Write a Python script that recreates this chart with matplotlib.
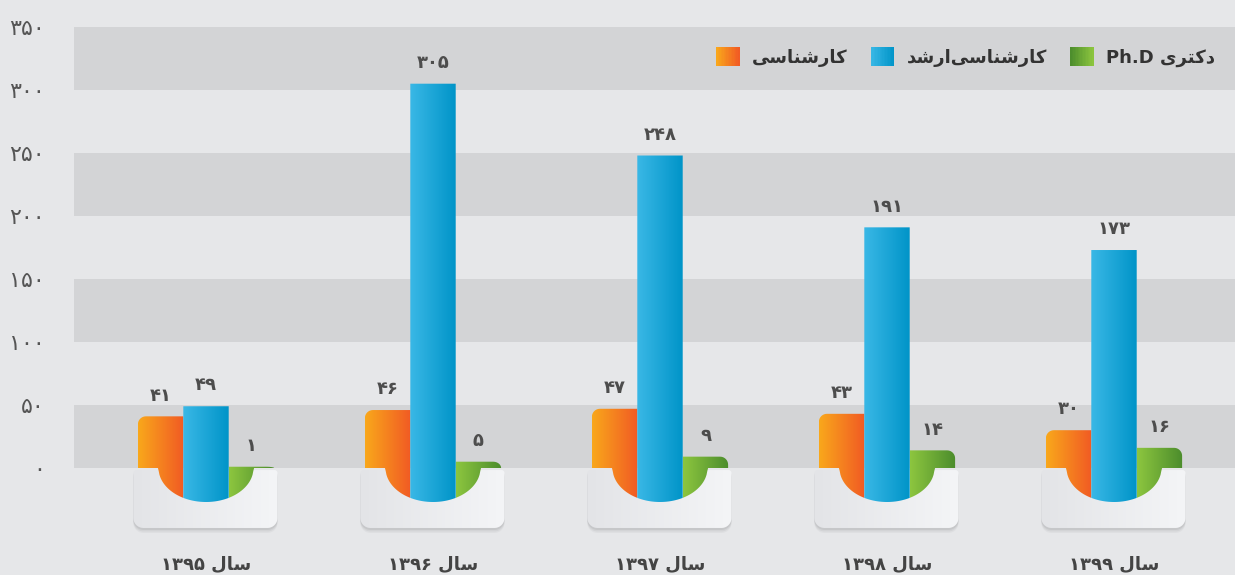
import numpy as np
import matplotlib
matplotlib.use('Agg')
import matplotlib.pyplot as plt
from matplotlib.colors import LinearSegmentedColormap
from matplotlib.patches import Polygon, Patch, Rectangle
from matplotlib.legend_handler import HandlerBase

# data
years = [1395, 1396, 1397, 1398, 1399]
bachelor = [41, 46, 47, 43, 30]
master = [49, 305, 248, 191, 173]
phd = [1, 5, 9, 14, 16]
yticks = [0, 50, 100, 150, 200, 250, 300, 350]

FA = str.maketrans('0123456789', '۰۱۲۳۴۵۶۷۸۹')
def fa(n):
    return str(n).translate(FA)

# persian words, already shaped (presentation forms, visual order)
sal = '\uFEDD\uFE8E\uFEB3'
karshenasi = '\uFBFD\uFEB3\uFE8E\uFEE8\uFEB7\uFEAD\uFE8E\uFB90'
arshad = '\uFEAA\uFEB7\uFEAD\uFE8D'
doktori = '\uFBFC\uFEAE\uFE98\uFB90\uFEA9'
names = [karshenasi, arshad + karshenasi, 'Ph.D ' + doktori]
xlabels = [fa(y) + ' ' + sal for y in years]

bg = '#e6e7e9'
band = '#d3d4d6'
grads = [('#f9a81b', '#f15a24'), ('#3ab8e6', '#0094c8'), ('#8dc63f', '#4b8c2c')]
leg_grads = [('#f9a81b', '#f15a24'), ('#3ab8e6', '#0094c8'), ('#4b8c2c', '#8dc63f')]

plt.rcParams['font.family'] = ['DejaVu Sans']

fig = plt.figure(figsize=(12.35, 5.75), dpi=100, facecolor=bg)
ax = fig.add_axes([74/1235, 35/575, 1161/1235, 540/575])
ax.set_facecolor(bg)

# px -> data
sx = 1/227.
sy = 50/63.
U_HALF = 47.5*sx
U_DEPTH = 34*sy

for lo in [0, 100, 200, 300]:
    ax.axhspan(lo, lo+50, color=band, zorder=0, lw=0)

x = np.arange(len(years))


def rounded(x0, x1, y0, y1, rb, rt, n=10):
    # rectangle with rounded corners, radii in px
    pts = []
    for cx, cy, r, a0 in [(x1, y0, rb, -90), (x1, y1, rt, 0), (x0, y1, rt, 90), (x0, y0, rb, 180)]:
        rx, ry = r*sx, r*sy
        ox = cx - rx if cx == x1 else cx + rx
        oy = cy - ry if cy == y1 else cy + ry
        for t in np.radians(np.linspace(a0, a0+90, n)):
            pts.append((ox + rx*np.cos(t), oy + ry*np.sin(t)))
    return pts


def bar_shape(x0, x1, top, gx, rl, rr):
    xs = np.linspace(x0, x1, 60)
    ys = -U_DEPTH*np.sqrt(np.clip(1 - ((xs - gx)/U_HALF)**2, 0, None))
    pts = list(zip(xs, ys))
    rrx, rry = rr*sx, min(rr*sy, top)
    for t in np.linspace(0, np.pi/2, 12):
        pts.append((x1 - rrx + rrx*np.cos(t), top - rry + rry*np.sin(t)))
    rlx, rly = rl*sx, min(rl*sy, top)
    for t in np.linspace(np.pi/2, np.pi, 12):
        pts.append((x0 + rlx + rlx*np.cos(t), top - rly + rly*np.sin(t)))
    return pts


gradient = np.linspace(0, 1, 256).reshape(1, -1)

# cups under each group
cup_cmap = LinearSegmentedColormap.from_list('cup', ['#e3e4e7', '#f4f5f7'])
for gx in x:
    shp = rounded(gx - 0.32, gx + 0.315, -47.6, -1.6, 10, 3)
    for k, a in [(5, 0.12), (3.5, 0.2), (2, 0.3)]:
        sh = Polygon([(p0, p1 - k*sy) for p0, p1 in shp], closed=True, facecolor='#a9aaad',
                     edgecolor='none', alpha=a, zorder=1)
        ax.add_patch(sh)
    p = Polygon(shp, closed=True, facecolor='none', edgecolor='none', zorder=2)
    ax.add_patch(p)
    im = ax.imshow(gradient, cmap=cup_cmap, extent=(gx - 0.32, gx + 0.315, -47.6, -1.6),
                   aspect='auto', zorder=2, interpolation='bicubic')
    im.set_clip_path(p)

series = [bachelor, master, phd]
offsets = [-0.2, 0, 0.2]
corners = [(8, 0), (0, 0), (0, 8)]
for vals, off, (c1, c2), (rl, rr) in zip(series, offsets, grads, corners):
    cmap = LinearSegmentedColormap.from_list('g', [c1, c2])
    bars = ax.bar(x + off, vals, width=0.2, color='none', zorder=3)
    for gx, rect, v in zip(x, bars, vals):
        x0 = rect.get_x()
        x1 = x0 + rect.get_width()
        top = rect.get_height()
        p = Polygon(bar_shape(x0, x1, top, gx, rl, rr), closed=True,
                    facecolor='none', edgecolor='none', zorder=3)
        ax.add_patch(p)
        im = ax.imshow(gradient, cmap=cmap, extent=(x0, x1, -U_DEPTH, top),
                       aspect='auto', zorder=3, interpolation='bicubic')
        im.set_clip_path(p)
        ax.annotate(fa(v), (x0 + rect.get_width()/2, top), xytext=(0, 15),
                    textcoords='offset points', ha='center', va='center',
                    fontsize=13, fontweight='bold', color='#4d4d4d', zorder=4)

ax.set_xlim(-132*sx, 1029*sx)
ax.set_ylim(-72*sy, 468*sy)

ax.set_yticks(yticks)
ax.set_yticklabels([fa(t) for t in yticks], fontsize=16, color='#555555')
ax.tick_params(axis='y', length=0, pad=21)
ax.set_xticks(x)
ax.set_xticklabels(xlabels, fontsize=13, fontweight='bold', color='#444444')
ax.tick_params(axis='x', length=0, pad=11)
for s in ax.spines.values():
    s.set_visible(False)


class GradHandler(HandlerBase):
    def create_artists(self, legend, orig, xd, yd, w, h, fs, trans):
        c1, c2 = orig.grad
        cm = LinearSegmentedColormap.from_list('l', [c1, c2])
        n = 16
        out = []
        for i in range(n):
            out.append(Rectangle((-xd + w*i/n, -yd), w/n + 0.3, h, facecolor=cm((i + 0.5)/n),
                                 edgecolor='none', transform=trans))
        return out


handles = []
for g in leg_grads:
    hp = Patch()
    hp.grad = g
    handles.append(hp)
leg = ax.legend(handles, names, ncol=3, loc='center right',
                bbox_to_anchor=(1 - 20/1161, 1 - 57/540), frameon=False,
                borderaxespad=0, borderpad=0, handlelength=1.27, handleheight=1.27,
                handletextpad=0.7, columnspacing=1.3,
                handler_map={Patch: GradHandler()},
                prop={'size': 13, 'weight': 'bold'})
for t in leg.get_texts():
    t.set_color('#333333')

fig.savefig('out.png', dpi=100, facecolor=bg)
